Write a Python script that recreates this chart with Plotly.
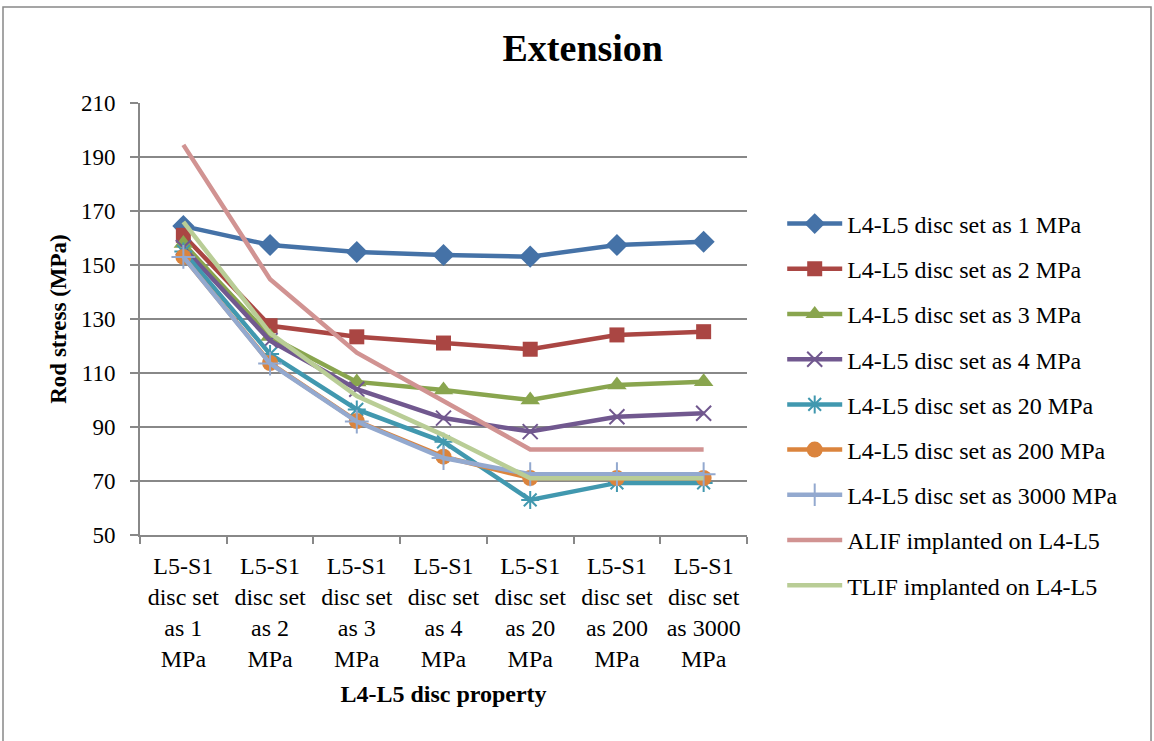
import plotly.graph_objects as go

categories = [
    "L5-S1<br>disc set<br>as 1<br>MPa",
    "L5-S1<br>disc set<br>as 2<br>MPa",
    "L5-S1<br>disc set<br>as 3<br>MPa",
    "L5-S1<br>disc set<br>as 4<br>MPa",
    "L5-S1<br>disc set<br>as 20<br>MPa",
    "L5-S1<br>disc set<br>as 200<br>MPa",
    "L5-S1<br>disc set<br>as 3000<br>MPa",
]

disc_1 = [164.4, 157.4, 154.8, 153.7, 153.1, 157.4, 158.6]
disc_2 = [161.0, 127.5, 123.4, 121.1, 118.8, 124.1, 125.3]
disc_3 = [158.0, 123.5, 106.7, 103.7, 100.0, 105.6, 106.8]
disc_4 = [156.5, 122.0, 104.0, 93.3, 88.3, 93.8, 95.1]
disc_20 = [155.0, 117.0, 96.5, 84.5, 63.0, 69.3, 69.3]
disc_200 = [153.0, 113.7, 92.2, 79.0, 71.1, 71.1, 71.1]
disc_3000 = [153.0, 113.5, 92.0, 78.5, 72.5, 72.5, 72.5]
alif = [194.5, 144.7, 117.5, 99.4, 81.7, 81.7, 81.7]
tlif = [166.0, 124.8, 101.5, 87.0, 71.0, 71.0, 71.0]

series = [
    ("L4-L5 disc set as 1 MPa", disc_1, "#4572A7", "diamond", 17, 0),
    ("L4-L5 disc set as 2 MPa", disc_2, "#AA4643", "square", 15, 0),
    ("L4-L5 disc set as 3 MPa", disc_3, "#89A54E", "triangle-up", 17, 0),
    ("L4-L5 disc set as 4 MPa", disc_4, "#71588F", "x-thin-open", 15, 2),
    ("L4-L5 disc set as 20 MPa", disc_20, "#4198AF", "asterisk-open", 15, 2),
    ("L4-L5 disc set as 200 MPa", disc_200, "#DB843D", "circle", 16, 0),
    ("L4-L5 disc set as 3000 MPa", disc_3000, "#93A9CF", "cross-thin-open", 17, 2),
    ("ALIF implanted on L4-L5", alif, "#D19392", None, 0, 0),
    ("TLIF implanted on L4-L5", tlif, "#B9CD96", None, 0, 0),
]

serif = "Liberation Serif, Times New Roman, serif"

fig = go.Figure()
for i, (name, vals, color, symbol, size, mlw) in enumerate(series):
    kw = dict(mode="lines")
    if symbol:
        kw = dict(
            mode="lines+markers",
            marker=dict(symbol=symbol, size=size, color=color,
                        line=dict(color=color, width=mlw)),
        )
    fig.add_trace(go.Scatter(
        x=categories, y=vals, name=name, legendgroup=f"g{i}",
        line=dict(color=color, width=4.5), **kw,
    ))

fig.update_layout(
    width=1154, height=741,
    margin=dict(l=140, r=407, t=103, b=206),
    paper_bgcolor="white", plot_bgcolor="white",
    font=dict(family=serif, size=23, color="#000000"),
    title=dict(text="<b>Extension</b>", x=0.505, xanchor="center",
               y=0.935, yanchor="middle", font=dict(size=38, family=serif)),
    showlegend=True,
    legend=dict(x=1.058, xanchor="left", y=0.772, yanchor="top",
                font=dict(size=24, family=serif), tracegroupgap=11,
                itemwidth=55, bgcolor="rgba(0,0,0,0)"),
    shapes=[dict(type="rect", xref="paper", yref="paper",
                 x0=-0.2257, x1=1.6656, y0=-0.49, y1=1.222,
                 line=dict(color="#888888", width=1.5))],
)

fig.update_xaxes(
    type="category", range=[-0.5, 6.5],
    showline=True, linecolor="#888888", linewidth=2,
    showgrid=False, ticks="outside", tickson="boundaries",
    ticklen=7, tickcolor="#888888", tickwidth=2, ticklabelstandoff=8,
    tickfont=dict(size=24, family=serif),
    title=dict(text="<b>L4-L5 disc property</b>", standoff=14,
               font=dict(size=24, family=serif)),
)
fig.update_yaxes(
    range=[50, 210], dtick=20, tick0=50,
    showline=True, linecolor="#888888", linewidth=2,
    showgrid=True, gridcolor="#888888", gridwidth=2,
    ticks="outside", ticklen=8, tickcolor="#888888", tickwidth=2,
    ticklabelstandoff=10,
    tickfont=dict(size=23, family=serif),
    title=dict(text="<b>Rod stress (MPa)</b>", standoff=8,
               font=dict(size=23, family=serif)),
    zeroline=False,
)

fig.write_html("out.html")
